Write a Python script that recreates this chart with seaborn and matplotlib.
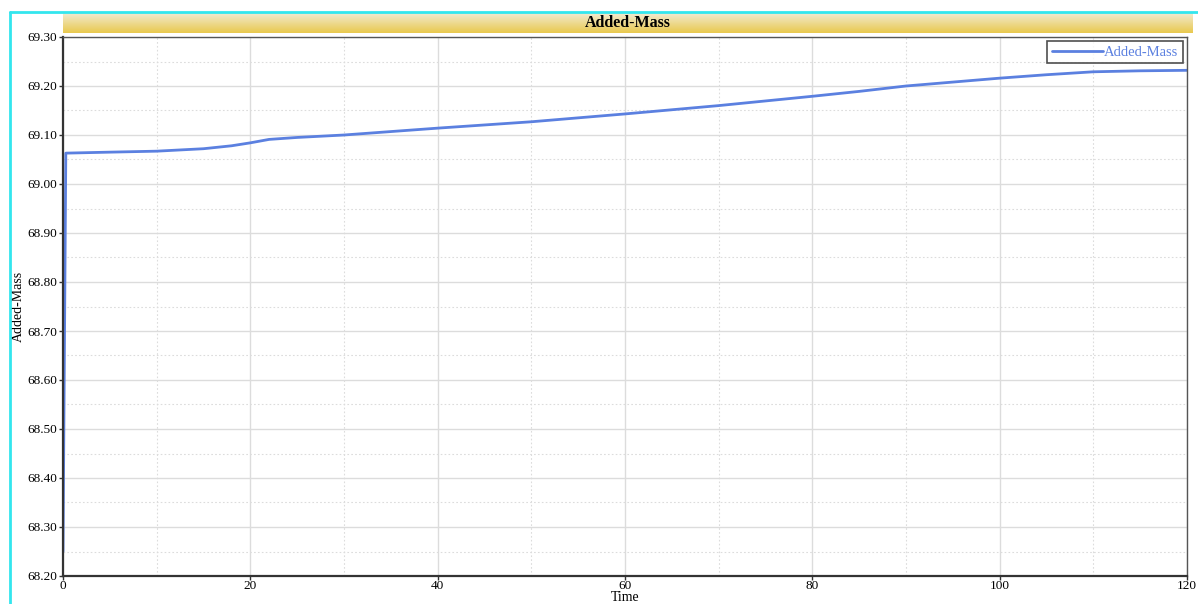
import numpy as np
import pandas as pd
import seaborn as sns
import matplotlib.pyplot as plt
from matplotlib.colors import LinearSegmentedColormap
from matplotlib.ticker import MultipleLocator, FormatStrFormatter

# values
time = [0, 0.3, 5, 10, 15, 18, 20, 22, 25, 30, 40, 50, 60, 70, 80, 85, 90, 100, 105, 110, 115, 120]
added_mass = [68.25, 69.063, 69.065, 69.067, 69.072, 69.078, 69.084, 69.091, 69.095, 69.100,
              69.114, 69.127, 69.143, 69.160, 69.179, 69.189, 69.200, 69.216, 69.223, 69.229,
              69.231, 69.232]
df = pd.DataFrame({"Time": time, "Added-Mass": added_mass})

sns.set_style("white")
plt.rcParams['font.family'] = ['Liberation Serif', 'DejaVu Serif']

fig = plt.figure(figsize=(11.98, 6.04), dpi=100)
W, H = 1198, 604

# cyan frame
fig.add_artist(plt.Line2D([10 / W, 10 / W], [0, 1 - 12 / H], color="#33e6ee", lw=2, transform=fig.transFigure))
fig.add_artist(plt.Line2D([10 / W, 1], [1 - 12 / H, 1 - 12 / H], color="#33e6ee", lw=2, transform=fig.transFigure))

# yellow title bar with gradient
tax = fig.add_axes([63 / W, 1 - 33 / H, (1193 - 63) / W, 20 / H])
grad = np.linspace(0, 1, 64).reshape(-1, 1)
cmap = LinearSegmentedColormap.from_list("bar", ["#f1ead0", "#e9c94e"])
tax.imshow(grad, aspect="auto", cmap=cmap, extent=[0, 1, 0, 1])
tax.set_axis_off()
tax.text(0.5, 0.5, "Added-Mass", ha="center", va="center", fontsize=11.5, fontweight="bold", color="black")

ax = fig.add_axes([63 / W, 1 - 576 / H, (1187 - 63) / W, (576 - 37) / H])
sns.lineplot(data=df, x="Time", y="Added-Mass", ax=ax, color="#5b80e0", lw=2, label="Added-Mass")

ax.set_xlim(0, 120)
ax.set_ylim(68.2, 69.3)
ax.xaxis.set_major_locator(MultipleLocator(20))
ax.xaxis.set_minor_locator(MultipleLocator(10))
ax.yaxis.set_major_locator(MultipleLocator(0.1))
ax.yaxis.set_minor_locator(MultipleLocator(0.05))
ax.yaxis.set_major_formatter(FormatStrFormatter("%.2f"))
ax.grid(which="major", color="#dcdcdc", lw=1, ls="-")
ax.grid(which="minor", color="#dcdcdc", lw=0.8, ls=(0, (1.5, 2)))
ax.set_axisbelow(True)

ax.tick_params(axis="both", which="major", labelsize=9.5, length=3, width=1, color="#333333",
               labelcolor="black", bottom=True, left=True, pad=1)
ax.tick_params(axis="x", pad=0)
ax.tick_params(which="minor", length=0)
for s in ["left", "bottom"]:
    ax.spines[s].set_color("#333333")
    ax.spines[s].set_linewidth(1.6)
for s in ["top", "right"]:
    ax.spines[s].set_color("#555555")
    ax.spines[s].set_linewidth(1)

ax.set_xlabel("Time", fontsize=10, color="black")
ax.set_ylabel("Added-Mass", fontsize=10, color="black")
ax.xaxis.set_label_coords(0.5, -0.039, transform=ax.transAxes)
ax.yaxis.set_label_coords(-0.04, 0.5, transform=ax.transAxes)
ax.xaxis.label.set_va("center")
ax.yaxis.label.set_va("center")

leg = ax.legend(loc="upper right", fontsize=10.5, frameon=True, fancybox=False,
                handlelength=3.5, handletextpad=0.1, borderpad=0.3, borderaxespad=0.3)
leg.get_frame().set_edgecolor("#222222")
leg.get_frame().set_linewidth(1.2)
for t in leg.get_texts():
    t.set_color("#5b80e0")

fig.savefig("out.png", dpi=100)
